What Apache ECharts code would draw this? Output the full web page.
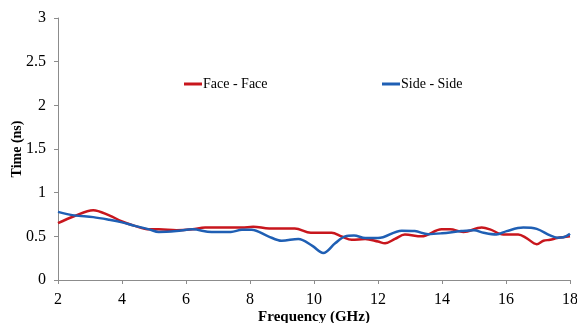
<!DOCTYPE html>
<html>
<head>
<meta charset="utf-8">
<style>
  html, body { margin: 0; padding: 0; background: #fff; }
  #chart { width: 577px; height: 323px; }
</style>
<script src="https://cdn.jsdelivr.net/npm/echarts@6/dist/echarts.min.js"></script>
</head>
<body>
<div id="chart"></div>
<script>
// Frequency sweep (GHz) and time response (ns) for the two antenna orientations
const faceFreq = [2, 2.5, 3.1, 3.6, 4.0, 4.4, 4.85, 5.15, 5.7, 6.2, 6.6, 7.0, 7.75, 8.1, 8.6, 9.4, 9.9, 10.55, 10.86, 11.18, 11.6, 12.0, 12.22, 12.53, 12.84, 13.36, 13.99, 14.25, 14.67, 15.24, 15.5, 15.92, 16.38, 16.64, 16.96, 17.17, 17.38, 17.6, 18];
const faceTime = [0.65, 0.73, 0.80, 0.74, 0.67, 0.62, 0.58, 0.58, 0.57, 0.58, 0.60, 0.60, 0.60, 0.61, 0.59, 0.59, 0.54, 0.54, 0.50, 0.46, 0.47, 0.44, 0.42, 0.47, 0.52, 0.50, 0.58, 0.58, 0.55, 0.60, 0.58, 0.52, 0.52, 0.48, 0.41, 0.45, 0.46, 0.48, 0.50];

const sideFreq = [2, 2.5, 3.1, 3.6, 4.0, 4.4, 4.85, 5.15, 5.7, 6.2, 6.8, 7.4, 7.75, 8.05, 8.57, 8.99, 9.51, 9.95, 10.29, 10.66, 10.97, 11.25, 11.6, 12.0, 12.74, 13.15, 13.57, 14.0, 14.6, 15.0, 15.3, 15.7, 16.02, 16.54, 16.96, 17.38, 17.6, 17.8, 18];
const sideTime = [0.78, 0.74, 0.72, 0.69, 0.66, 0.62, 0.58, 0.55, 0.56, 0.58, 0.55, 0.55, 0.575, 0.575, 0.50, 0.45, 0.47, 0.39, 0.31, 0.42, 0.50, 0.51, 0.48, 0.48, 0.565, 0.56, 0.525, 0.535, 0.56, 0.57, 0.54, 0.52, 0.56, 0.60, 0.585, 0.51, 0.485, 0.49, 0.53];

const seriesNames = ['Face - Face', 'Side - Side'];
const seriesColors = ['#c8161d', '#1f5fb4'];

const pairs = (xs, ys) => xs.map((x, i) => [x, ys[i]]);
const serif = '"Liberation Serif", "Times New Roman", serif';

const chart = echarts.init(document.getElementById('chart'), null, { renderer: 'canvas' });

const legendBase = {
  top: 72,
  icon: 'rect',
  itemWidth: 18,
  itemHeight: 3,
  textStyle: { fontFamily: serif, fontSize: 14, color: '#000', padding: [0, 0, 0, -4] },
  selectedMode: false
};

chart.setOption({
  animation: false,
  backgroundColor: '#fff',
  color: seriesColors,
  legend: [
    Object.assign({ left: 179, data: [seriesNames[0]] }, legendBase),
    Object.assign({ left: 377, data: [seriesNames[1]] }, legendBase)
  ],
  grid: { left: 58, right: 7, top: 18, bottom: 43, containLabel: false, outerBoundsMode: 'none' },
  xAxis: {
    type: 'value',
    min: 2,
    max: 18,
    interval: 2,
    name: 'Frequency (GHz)',
    nameLocation: 'middle',
    nameGap: 30,
    nameMoveOverlap: false,
    nameTextStyle: { fontFamily: serif, fontSize: 15, fontWeight: 'bold', color: '#000' },
    axisLine: { lineStyle: { color: '#8c8c8c', width: 1 } },
    axisTick: { show: true, length: 4, inside: false, lineStyle: { color: '#8c8c8c' } },
    axisLabel: { fontFamily: serif, fontSize: 16, color: '#000', margin: 12 },
    splitLine: { show: false }
  },
  yAxis: {
    type: 'value',
    min: 0,
    max: 3,
    interval: 0.5,
    name: 'Time (ns)',
    nameLocation: 'middle',
    nameGap: 34,
    nameMoveOverlap: false,
    nameTextStyle: { fontFamily: serif, fontSize: 14, fontWeight: 'bold', color: '#000' },
    axisLine: { show: true, lineStyle: { color: '#8c8c8c', width: 1 } },
    axisTick: { show: true, length: 4, lineStyle: { color: '#8c8c8c' } },
    axisLabel: { fontFamily: serif, fontSize: 16, color: '#000', margin: 12 },
    splitLine: { show: false }
  },
  series: [
    {
      name: seriesNames[0],
      type: 'line',
      data: pairs(faceFreq, faceTime),
      smooth: 0.35,
      symbol: 'none',
      lineStyle: { width: 2.5, color: seriesColors[0] },
      z: 2
    },
    {
      name: seriesNames[1],
      type: 'line',
      data: pairs(sideFreq, sideTime),
      smooth: 0.35,
      symbol: 'none',
      lineStyle: { width: 2.5, color: seriesColors[1] },
      z: 3
    }
  ]
});
</script>
</body>
</html>
